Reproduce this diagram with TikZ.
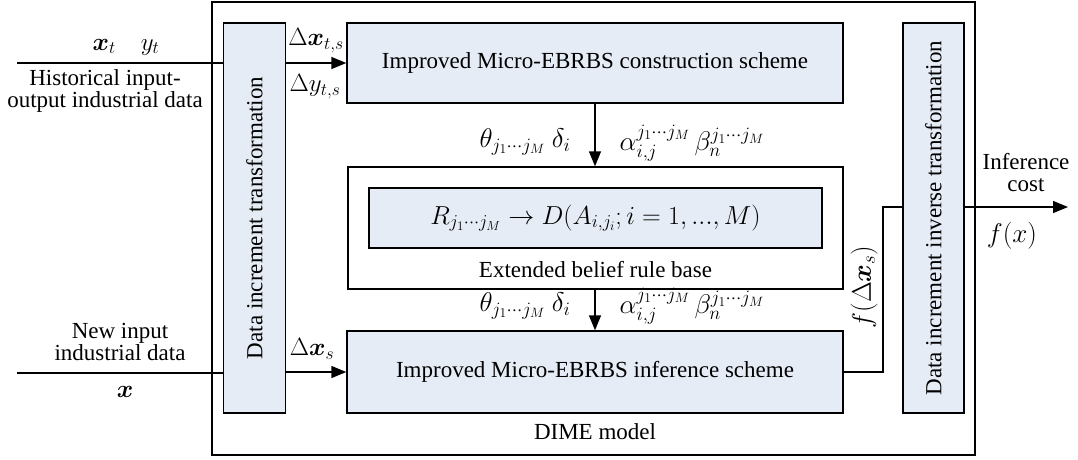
\RequirePackage{fix-cm}
\documentclass[tikz,border=0pt]{standalone}
\usepackage{amsmath}
\usepackage{bm}
\usepackage{fontspec}
\setmainfont{Liberation Serif}
\usetikzlibrary{arrows.meta}
\definecolor{boxfill}{RGB}{230,236,246}
\newcommand{\bigfs}{\fontsize{23}{22}\selectfont}
\newcommand{\mathfs}{\fontsize{27}{30}\selectfont}
\newcommand{\rulefs}{\fontsize{25}{28}\selectfont}
\newcommand{\rulebigfs}{\fontsize{26}{28}\selectfont}
\tikzset{
  every node/.style={font=\bigfs, inner sep=0pt},
  blk/.style={draw, line width=1.4pt, fill=boxfill, inner sep=0pt},
  frame/.style={draw, line width=1.4pt, fill=white, inner sep=0pt},
  conn/.style={line width=1.4pt},
  arr/.style={line width=1.4pt, -{Triangle[length=15pt,width=12pt]}},
  txt/.style={align=center},
  mlbl/.style={font=\mathfs},
}
\begin{document}
\begin{tikzpicture}[x=1pt,y=-1pt]
\useasboundingbox (0,0) rectangle (1078,459);
% outer DIME frame
\node[frame, minimum width=763pt, minimum height=453pt] (dime) at (593.5,228.5) {};
\node (dimelbl) at (595,432) {DIME model};
% columns
\node[blk, minimum width=62pt, minimum height=390pt] (lcol) at (254.5,218) {};
\node[rotate=90] (lcoltxt) at (lcol.center) {Data increment transformation};
\node[blk, minimum width=61pt, minimum height=390pt] (rcol) at (933.5,218) {};
\node[rotate=90] (rcoltxt) at (rcol.center) {Data increment inverse transformation};
% main boxes
\node[blk, minimum width=496pt, minimum height=80pt] (top) at (595,63) {Improved Micro-EBRBS construction scheme};
\node[blk, minimum width=496pt, minimum height=82pt] (bot) at (595,372) {Improved Micro-EBRBS inference scheme};
\node[frame, minimum width=495pt, minimum height=122pt] (ebrb) at (595.5,228) {};
\node[blk, minimum width=453pt, minimum height=60pt, font=\rulebigfs] (rule) at (595.5,218)
  {$R_{j_1\cdots j_M}\rightarrow D(A_{i,j_i};i=1,...,M)$};
\node (ebrblbl) at (595.5,270) {Extended belief rule base};
% inputs
\coordinate (in1) at (17,63);
\coordinate (in2) at (17,373);
\draw[conn] (in1) -- (in1 -| lcol.west);
\draw[conn] (in2) -- (in2 -| lcol.west);
\node[font=\rulefs] (xtyt) at (126,47) {$\bm{x}_t\quad y_t$};
\node[txt] (hist) at (105,91) {Historical input-\\output industrial data};
\node[txt] (newin) at (120,342) {New input\\industrial data};
\node[font=\rulefs] (xin) at (125,392) {$\bm{x}$};
% transformed data arrows
\draw[arr] (lcol.east |- top.west) -- (top.west);
\draw[arr] (lcol.east |- bot.west) -- (bot.west);
\node[font=\rulefs] (dxts) at (316,41) {$\Delta\bm{x}_{t,s}$};
\node[font=\rulefs] (dyts) at (315,87) {$\Delta y_{t,s}$};
\node[font=\rulefs] (dxs) at (312,349) {$\Delta\bm{x}_s$};
% parameter arrows
\draw[arr] (top.south) -- (top.south |- ebrb.north);
\draw[arr] (top.south |- ebrb.south) -- (top.south |- bot.north);
\node[mlbl, anchor=base] (p1) at (525,147) {$\theta_{j_1\cdots j_M}\ \delta_i$};
\node[mlbl, anchor=base] (p2) at (692,150) {$\alpha_{i,j}^{j_1\cdots j_M}\,\beta_n^{j_1\cdots j_M}$};
\node[mlbl, anchor=base] (p3) at (525,311) {$\theta_{j_1\cdots j_M}\ \delta_i$};
\node[mlbl, anchor=base] (p4) at (692,313) {$\alpha_{i,j}^{j_1\cdots j_M}\,\beta_n^{j_1\cdots j_M}$};
% output path
\coordinate (bend) at (883,207);
\draw[conn] (bot.east) -| (bend) -- (bend -| rcol.west);
\node[rotate=90, font=\mathfs] (fdx) at (864,287) {$f(\Delta\bm{x}_s)$};
\coordinate (out) at (1068,207);
\draw[arr] (rcol.east |- out) -- (out);
\node[txt] (infc) at (1026,173) {Inference\\cost};
\node[font=\mathfs] (fx) at (1012,236) {$f(x)$};
\end{tikzpicture}
\end{document}
